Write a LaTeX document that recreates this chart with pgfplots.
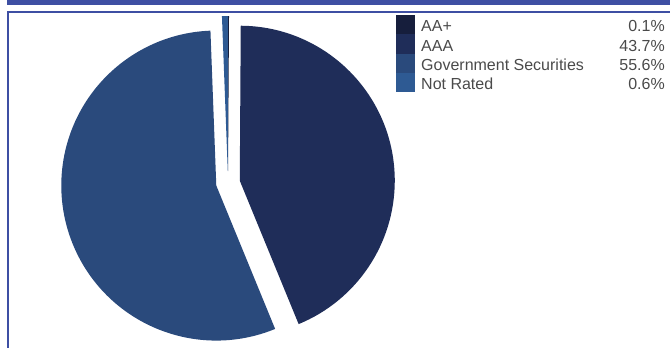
\documentclass[border=0pt]{standalone}
\usepackage{pgfplots}
\pgfplotsset{compat=1.18}
\usepackage{fontspec}
\setmainfont{Liberation Sans}
\definecolor{cAAp}{HTML}{161E3C}
\definecolor{cAAA}{HTML}{1F2D59}
\definecolor{cGov}{HTML}{2A4A7C}
\definecolor{cNR}{HTML}{2E5A93}
\definecolor{frame}{HTML}{3E4FA3}
\definecolor{txt}{HTML}{4A4A4A}
\def\cx{228}
\def\cy{183}
\def\R{155pt}
\def\ex{12}
% #1 cumulative start (percent), #2 share (percent), #3 colour
\newcommand\slice[3]{%
  \fill[#3] ([shift={({\ex*sin((#1+#2/2)*3.6)*1pt},{\ex*cos((#1+#2/2)*3.6)*1pt})}]axis cs:\cx,\cy)
    -- ++({90-#1*3.6}:\R) arc[start angle={90-#1*3.6}, end angle={90-(#1+#2)*3.6}, radius=\R] -- cycle;}
\begin{document}
\begin{tikzpicture}
\begin{axis}[
  scale only axis, width=670pt, height=348pt,
  xmin=0, xmax=670, ymin=0, ymax=348, y dir=reverse,
  hide axis, clip=true,
]
\path (axis cs:0,0) rectangle (axis cs:670,348);
% frame
\fill[frame] (axis cs:7,0) rectangle (axis cs:670,4.5);
\fill[frame] (axis cs:6.5,11) rectangle (axis cs:670,13);
\fill[frame] (axis cs:6.5,11) rectangle (axis cs:8.5,348);
% pie: AA+ 0.1, AAA 43.7, Government Securities 55.6, Not Rated 0.6
\slice{0}{0.1}{cAAp}
\slice{0.1}{43.7}{cAAA}
\slice{43.8}{55.6}{cGov}
\slice{99.4}{0.6}{cNR}
% legend
\fill[cAAp] (axis cs:396,15) rectangle (axis cs:415,34.25);
\fill[cAAA] (axis cs:396,34.25) rectangle (axis cs:415,53.5);
\fill[cGov] (axis cs:396,53.5) rectangle (axis cs:415,72.75);
\fill[cNR] (axis cs:396,72.75) rectangle (axis cs:415,92);
\begin{scope}[every node/.style={font=\fontsize{16}{18}\selectfont, text=txt, inner sep=0pt}]
\node[anchor=base west] at (axis cs:421,31.5) {AA+};
\node[anchor=base west] at (axis cs:421,51) {AAA};
\node[anchor=base west] at (axis cs:421,70) {Government Securities};
\node[anchor=base west] at (axis cs:421,89) {Not Rated};
\node[anchor=base east] at (axis cs:665,31.5) {0.1\%};
\node[anchor=base east] at (axis cs:665,51) {43.7\%};
\node[anchor=base east] at (axis cs:665,70) {55.6\%};
\node[anchor=base east] at (axis cs:665,89) {0.6\%};
\end{scope}
\end{axis}
\end{tikzpicture}
\end{document}
